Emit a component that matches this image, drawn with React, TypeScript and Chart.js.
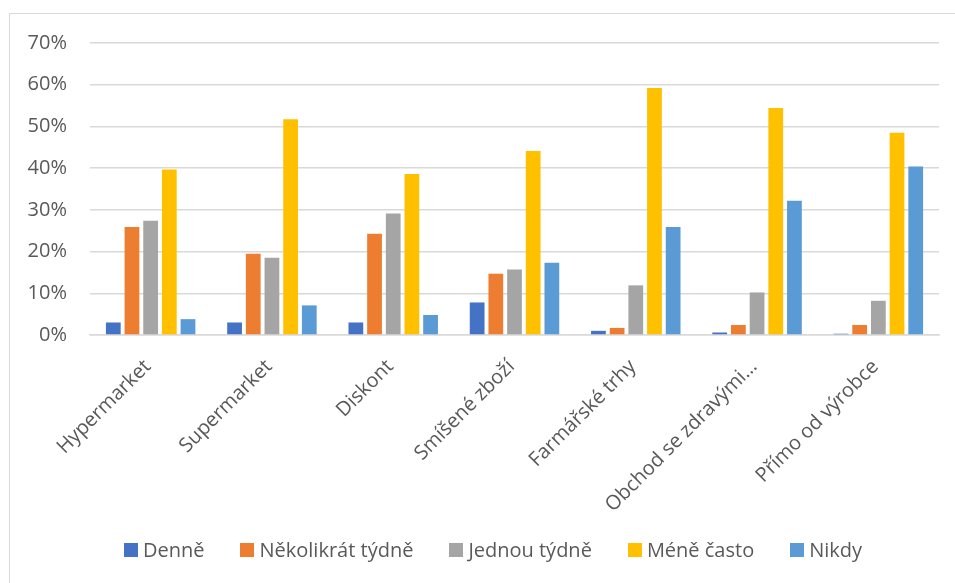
import React, { useEffect, useRef } from "react";
import { Chart, registerables } from "chart.js";

Chart.register(...registerables);

const categories = [
  "Hypermarket",
  "Supermarket",
  "Diskont",
  "Smíšené zboží",
  "Farmářské trhy",
  "Obchod se zdravými…",
  "Přímo od výrobce",
];

const denne = [3.0, 3.0, 3.0, 7.8, 1.0, 0.6, 0.3];
const nekolikratTydne = [25.9, 19.5, 24.3, 14.7, 1.7, 2.4, 2.4];
const jednouTydne = [27.4, 18.5, 29.1, 15.7, 11.9, 10.2, 8.2];
const meneCasto = [39.7, 51.7, 38.6, 44.1, 59.2, 54.4, 48.5];
const nikdy = [3.8, 7.1, 4.8, 17.3, 25.9, 32.2, 40.4];

const seriesNames = ["Denně", "Několikrát týdně", "Jednou týdně", "Méně často", "Nikdy"];
const seriesColors = ["#4472C4", "#ED7D31", "#A5A5A5", "#FFC000", "#5B9BD5"];
const seriesValues = [denne, nekolikratTydne, jednouTydne, meneCasto, nikdy];

const FONT = "'Open Sans', 'Liberation Sans', sans-serif";
const TEXT = "#595959";
const GRID = "#D9D9D9";

export default function App() {
  const canvasRef = useRef<HTMLCanvasElement | null>(null);

  useEffect(() => {
    const canvas = canvasRef.current;
    if (!canvas) return;
    const chart = new Chart(canvas, {
      type: "bar",
      data: {
        labels: categories,
        datasets: seriesNames.map((name, i) => ({
          label: name,
          data: seriesValues[i],
          backgroundColor: seriesColors[i],
          borderWidth: 0,
          categoryPercentage: 0.77,
          barPercentage: 0.79,
        })),
      },
      options: {
        responsive: false,
        animation: false,
        maintainAspectRatio: false,
        layout: { padding: { top: 43, right: 16, bottom: 0, left: 0 } },
        plugins: {
          tooltip: { enabled: false },
          legend: { display: false },
        },
        scales: {
          x: {
            grid: { display: false, drawTicks: false },
            border: { display: true, color: GRID, width: 1.5 },
            ticks: {
              color: TEXT,
              font: { family: FONT, size: 20 },
              minRotation: 45,
              maxRotation: 45,
              padding: 20,
              labelOffset: -3,
              autoSkip: false,
            },
            afterFit: (s: any) => {
              s.height = 248;
            },
          },
          y: {
            min: 0,
            max: 70,
            grid: { color: GRID, lineWidth: 1.5, drawTicks: false },
            border: { display: false },
            ticks: {
              stepSize: 10,
              color: TEXT,
              padding: 23,
              font: { family: FONT, size: 20 },
              callback: (v: any) => `${v}%`,
            },
            afterFit: (s: any) => {
              s.width = 90;
            },
          },
        },
      },
    });
    return () => chart.destroy();
  }, []);

  return (
    <div
      style={{
        position: "fixed",
        left: 0,
        top: 0,
        width: 955,
        height: 583,
        overflow: "hidden",
        background: "#fff",
        fontFamily: FONT,
      }}
    >
      <div
        style={{
          position: "absolute",
          left: 9,
          top: 13,
          width: 1000,
          height: 640,
          border: `1px solid ${GRID}`,
          boxSizing: "border-box",
        }}
      />
      <canvas
        ref={canvasRef}
        width={955}
        height={583}
        style={{ position: "absolute", left: 0, top: 0, width: 955, height: 583 }}
      />
      <div
        style={{
          position: "absolute",
          left: 9,
          width: 968,
          top: 536,
          height: 28,
          display: "flex",
          justifyContent: "center",
          alignItems: "center",
          gap: 36,
          color: TEXT,
          fontSize: 20,
          lineHeight: "28px",
          whiteSpace: "nowrap",
        }}
      >
        {seriesNames.map((name, i) => (
          <div key={name} style={{ display: "flex", alignItems: "center" }}>
            <span
              style={{
                display: "inline-block",
                width: 14,
                height: 14,
                background: seriesColors[i],
                marginRight: 5,
              }}
            />
            <span>{name}</span>
          </div>
        ))}
      </div>
    </div>
  );
}
